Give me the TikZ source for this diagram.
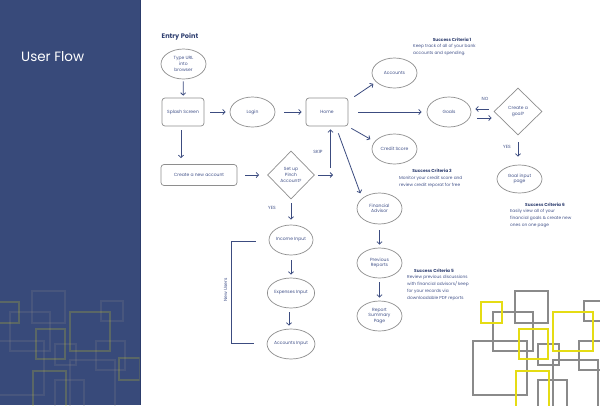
\documentclass[tikz,border=0pt]{standalone}
\usepackage{fontspec}
\setmainfont{Poppins}
\usetikzlibrary{arrows.meta,shapes.geometric,calc}
\definecolor{panel}{HTML}{384A7A}
\definecolor{paneledge}{HTML}{2C3D6C}
\definecolor{arrc}{HTML}{3C4C80}
\definecolor{txtc}{HTML}{43538A}
\definecolor{ttlc}{HTML}{2F3F70}
\definecolor{outl}{HTML}{8E8E8E}
\definecolor{sqg}{HTML}{8A8A8A}
\definecolor{sqy}{HTML}{E5DC14}
\newcommand\myfs{\fontsize{4.5}{5.6}\selectfont}
\newcommand\mysfs{\fontsize{4.3}{6.7}\selectfont}
\newcommand\mysquares{%
  \draw[gsq] (515,291) rectangle (548,323);
  \draw[gsq] (493,312) rectangle (533,351);
  \draw[gsq] (584,301) rectangle (606,321);
  \draw[gsq] (473,341) rectangle (527,395);
  \draw[gsq] (538,344) rectangle (559,365);
  \draw[gsq] (579,341) rectangle (608,370);
  \draw[gsq] (553,360) rectangle (598,410);
  \draw[gsq] (538,380) rectangle (567,410);
  \draw[ysq] (481,302) rectangle (502,323);
  \draw[ysq] (553,312) rectangle (593,351);
  \draw[ysq] (519,329) rectangle (548,359);
  \draw[ysq] (516,371) rectangle (549,410);
  \draw[ysq] (602,358) rectangle (623,380);
}
\begin{document}
\begin{tikzpicture}[x=1pt,y=-1pt,
  gsq/.style={draw=sqg, line width=1.3pt},
  ysq/.style={draw=sqy, line width=1.8pt},
  ell/.style={ellipse, draw=outl, line width=0.7pt, minimum width=45pt, minimum height=30pt, inner sep=0pt, font=\myfs, text=txtc, align=center},
  rbox/.style={rectangle, rounded corners=3pt, draw=outl, line width=0.7pt, minimum width=42pt, minimum height=28pt, inner sep=0pt, font=\myfs, text=txtc, align=center},
  dia/.style={diamond, draw=outl, line width=0.7pt, minimum width=47pt, minimum height=48pt, inner sep=0pt, font=\myfs, text=txtc, align=center},
  arr/.style={draw=arrc, line width=0.8pt, -{Straight Barb[length=2.4pt,width=5pt]}},
  lbl/.style={font=\myfs, text=txtc, inner sep=0pt},
  sctitle/.style={font=\mysfs\bfseries, text=ttlc, inner sep=0pt},
  scbody/.style={font=\mysfs, text=txtc, inner sep=0pt, align=left, anchor=north west},
]
\useasboundingbox (0,0) rectangle (600,405);
\fill[white] (0,0) rectangle (600,405);
% left panel
\fill[panel] (0,0) rectangle (141,405);
\draw[paneledge, line width=0.8pt] (140.6,0) -- (140.6,405);
\begin{scope}
  \clip (0,0) rectangle (139.5,405);
  \begin{scope}[xshift=-483pt, opacity=0.2]
    \mysquares
  \end{scope}
\end{scope}
\node[font=\fontsize{13.5}{16}\selectfont, text=white, anchor=west, inner sep=0pt] (title) at (21,57) {User Flow};
% right squares
\mysquares
% heading
\node[font=\fontsize{6.6}{8}\selectfont\bfseries, text=ttlc, anchor=west, inner sep=0pt] (entry) at (161.5,37) {Entry Point};
% nodes
\node[ell] (url) at (183.5,64) {Type URL\\into\\browser};
\node[rbox] (splash) at (183,112) {Splash Screen};
\node[ell] (login) at (252.5,112) {Login};
\node[rbox] (home) at (327,112) {Home};
\node[rbox, minimum width=76pt, minimum height=21pt] (create) at (199,175) {Create a new account};
\node[dia] (setup) at (291,175) {Set up\\Pinch\\Account?};
\node[ell] (acc) at (394.5,73) {Accounts};
\node[ell, minimum width=44pt] (goals) at (449,112) {Goals};
\node[ell] (credit) at (394.5,149) {Credit Score};
\node[dia, minimum width=48pt, minimum height=47pt] (cgoal) at (518,111.5) {Create a\\goal?};
\node[ell, minimum height=28pt] (ginput) at (519.5,179) {Goal input\\page};
\node[ell, minimum height=31pt] (fin) at (379.5,208.5) {Financial\\Advisor};
\node[ell] (prev) at (379.5,263) {Previous\\Reports};
\node[ell] (rsum) at (379.5,316) {Report\\Summary\\Page};
\node[ell, minimum width=44pt] (inc) at (291,240) {Income Input};
\node[ell, minimum width=44pt] (exp) at (291,293) {Expenses Input};
\node[ell, minimum width=44pt] (accin) at (291,344) {Accounts Input};
% coordinates for skip
\coordinate (skipr) at (333,175);
\coordinate (skipu) at (330.5,168);
% arrows
\draw[arr, shorten <=2pt, shorten >=2pt] (url) -- (splash);
\draw[arr, shorten <=6pt, shorten >=4pt] (splash.east) -- (login.west);
\draw[arr, shorten <=9pt, shorten >=4pt] (login.east) -- (home.west);
\draw[arr, shorten <=4pt, shorten >=6pt] ($(splash.south)+(-2,0)$) -- ($(splash.south |- create.north)+(-2,0)$);
\draw[arr, shorten <=8pt, shorten >=8pt] (create.east) -- (setup.west);
\draw[arr, shorten <=3pt] (setup.east) -- (skipr);
\draw[arr, shorten >=3pt] (skipu) -- (skipu |- home.south);
\node[lbl] (skip) at (318,152) {SKIP};
\draw[arr] ($(home.north east)+(6,-1)$) -- ($(acc.south west)+(-5,0)$);
\draw[arr, shorten <=10pt, shorten >=5pt] (home.east) -- (goals.west);
\draw[arr] ($(home.south east)+(3,2)$) -- ($(credit.north west)+(-8,1)$);
\draw[arr] ($(home.south east)+(-10,7)$) -- ($(fin.north west)+(-3,-4)$);
\draw[arr] ($(cgoal.west)+(-5,-2.5)$) -- ($(goals.east)+(4,-3)$);
\draw[arr] ($(goals.east)+(6,6)$) -- ($(cgoal.west)+(-2,6.5)$);
\node[lbl] (no) at (485,99) {NO};
\draw[arr, shorten <=7pt, shorten >=8pt] (cgoal.south) -- (cgoal.south |- ginput.north);
\node[lbl] (yes1) at (507,147) {YES};
\draw[arr, shorten <=6pt, shorten >=3pt] (fin) -- (prev);
\draw[arr, shorten <=4pt, shorten >=3pt] (prev) -- (rsum);
\draw[arr, shorten <=4pt, shorten >=5pt] (setup.south) -- (inc.north);
\node[lbl] (yes2) at (272,208) {YES};
\draw[arr, shorten <=5pt, shorten >=3pt] (inc) -- (exp);
\draw[arr, shorten <=4pt, shorten >=3pt] ($(exp.south)+(-2,0)$) -- ($(accin.north)+(-2,0)$);
% bracket
\draw[arrc, line width=0.8pt] ($(inc.west)+(-13,1)$) -- ++(-24,0) |- ($(accin.west)+(-13,-1)$);
\node[lbl, rotate=90] (newusers) at (225.5,290) {New Users};
% success criteria
\node[sctitle] (sc1t) at (452,40) {Success Criteria 1};
\node[scbody] (sc1b) at (413,44) {Keep track of all of your bank\\accounts and spending.};
\node[sctitle] (sc3t) at (432,171) {Success Criteria 3};
\node[scbody] (sc3b) at (399,176) {Monitor your credit score and\\review credit reporat for free};
\node[sctitle] (sc5t) at (434,271) {Success Criteria 5};
\node[scbody] (sc5b) at (407,275.5) {Review previous discussions\\with financial advisors/ keep\\for your records via\\downloadable PDF reports};
\node[sctitle] (sc6t) at (545,205) {Success Criteria 6};
\node[scbody] (sc6b) at (510,209.5) {Easily view all of your\\financial goals \& create new\\ones on one page};
\end{tikzpicture}
\end{document}
